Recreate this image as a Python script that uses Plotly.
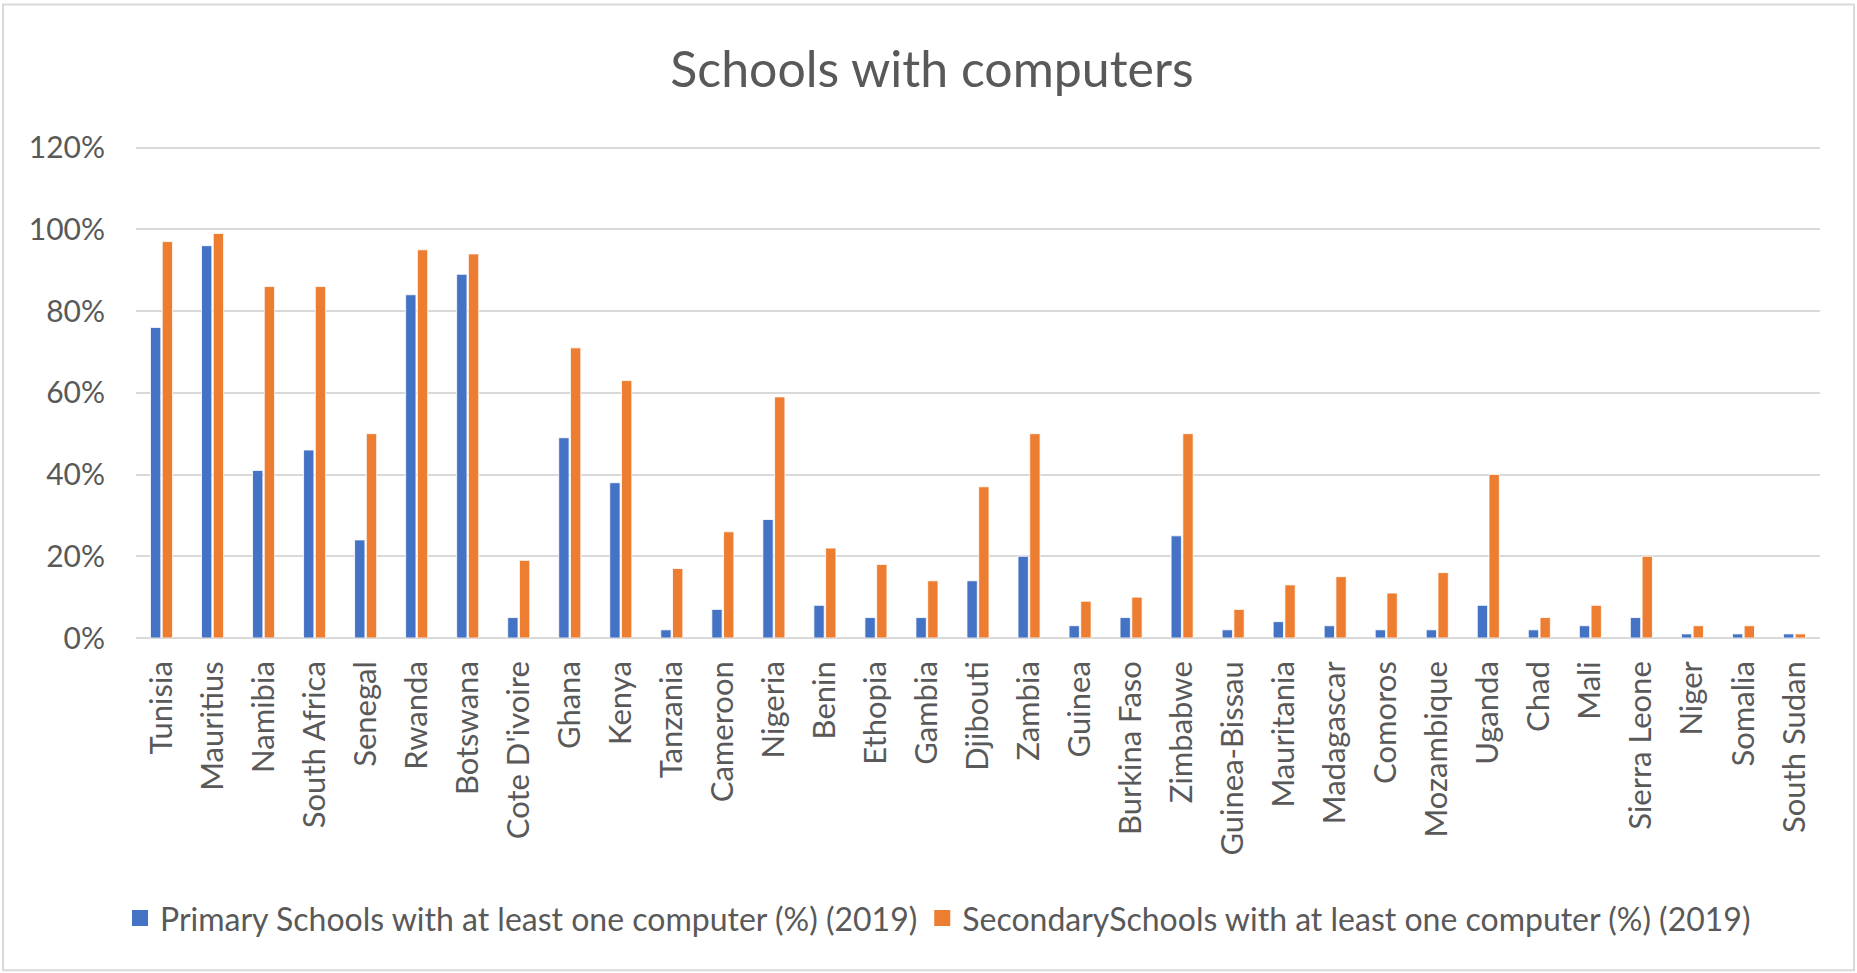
import plotly.graph_objects as go

countries = ["Tunisia", "Mauritius", "Namibia", "South Africa", "Senegal", "Rwanda", "Botswana",
             "Cote D'ivoire", "Ghana", "Kenya", "Tanzania", "Cameroon", "Nigeria", "Benin",
             "Ethopia", "Gambia", "Djibouti", "Zambia", "Guinea", "Burkina Faso", "Zimbabwe",
             "Guinea-Bissau", "Mauritania", "Madagascar", "Comoros", "Mozambique", "Uganda",
             "Chad", "Mali", "Sierra Leone", "Niger", "Somalia", "South Sudan"]

primary = [76, 96, 41, 46, 24, 84, 89, 5, 49, 38, 2, 7, 29, 8, 5, 5, 14, 20, 3, 5, 25,
           2, 4, 3, 2, 2, 8, 2, 3, 5, 1, 1, 1]
secondary = [97, 99, 86, 86, 50, 95, 94, 19, 71, 63, 17, 26, 59, 22, 18, 14, 37, 50, 9, 10, 50,
             7, 13, 15, 11, 16, 40, 5, 8, 20, 3, 3, 1]

y_ticks = [0, 20, 40, 60, 80, 100, 120]
y_tick_labels = ["0%", "20%", "40%", "60%", "80%", "100%", "120%"]

primary_name = "Primary Schools with at least one computer (%) (2019)"
secondary_name = "SecondarySchools with at least one computer (%) (2019)"
title_text = "Schools with computers"

BLUE = "#4472C4"
ORANGE = "#ED7D31"
TEXT = "#595959"
GRID = "#D9D9D9"
FONT = "Lato, Open Sans, sans-serif"

W, H = 1857, 973
YMAX = 120.4
L, R, T, B = 136, 37, 146.4, 335

fig = go.Figure()
fig.add_trace(go.Bar(x=countries, y=primary, name=primary_name, marker_color=BLUE,
                     marker_line=dict(color="white", width=0.8), showlegend=False))
fig.add_trace(go.Bar(x=countries, y=secondary, name=secondary_name, marker_color=ORANGE,
                     marker_line=dict(color="white", width=0.8), showlegend=False))
# legend entries with larger square swatches
fig.add_trace(go.Scatter(x=[None], y=[None], mode="markers", name=primary_name,
                         marker=dict(symbol="square", size=16, color=BLUE)))
fig.add_trace(go.Scatter(x=[None], y=[None], mode="markers", name=secondary_name,
                         marker=dict(symbol="square", size=16, color=ORANGE)))

plot_w = W - L - R
plot_h = H - T - B

def px_x(px):
    return (px - L) / plot_w

def px_y(py):
    return (H - B - py) / plot_h

fig.update_layout(
    width=W, height=H,
    margin=dict(l=L, r=R, t=T, b=B, autoexpand=False),
    paper_bgcolor="white", plot_bgcolor="white",
    font=dict(family=FONT, color=TEXT, size=30),
    title=dict(text=title_text, x=932 / W, xref="container", xanchor="center",
               y=1 - 69 / H, yref="container", yanchor="middle",
               font=dict(family=FONT, size=50, color=TEXT)),
    barmode="group", bargap=0.54, bargroupgap=0.12,
    legend=dict(orientation="h", x=px_x(938), xanchor="center", y=px_y(918), yanchor="middle",
                font=dict(family=FONT, size=32, color=TEXT), itemsizing="trace",
                bgcolor="rgba(0,0,0,0)"),
    showlegend=True,
)
fig.update_xaxes(type="category", tickangle=-90, showgrid=False, showline=False, ticks="",
                 tickfont=dict(family=FONT, size=31, color=TEXT), ticklabelstandoff=16,
                 fixedrange=True)
fig.update_yaxes(range=[0, YMAX], tickmode="array", tickvals=y_ticks, ticktext=y_tick_labels,
                 showgrid=True, gridcolor=GRID,
                 gridwidth=2, zeroline=True, zerolinecolor=GRID, zerolinewidth=2,
                 showline=False, ticks="", tickfont=dict(family=FONT, size=30, color=TEXT),
                 ticklabelstandoff=30, fixedrange=True)

# outer chart border
fig.add_shape(type="rect", xref="paper", yref="paper",
              x0=px_x(3), x1=px_x(1854), y0=px_y(970), y1=px_y(5),
              line=dict(color=GRID, width=2), fillcolor="rgba(0,0,0,0)", layer="below")

fig.write_html("out.html")
